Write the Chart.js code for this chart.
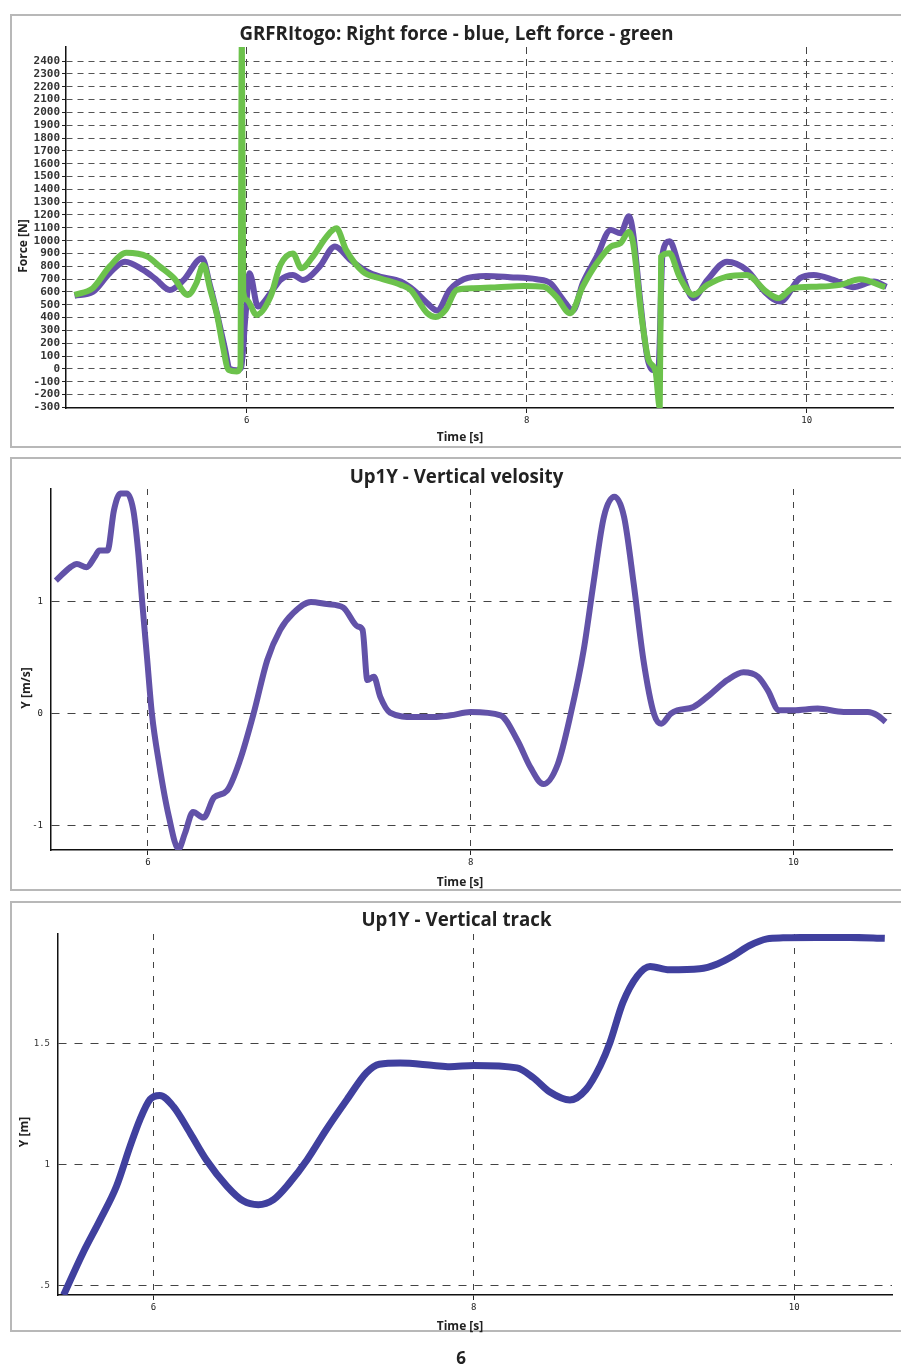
<!DOCTYPE html>
<html>
<head>
<meta charset="utf-8">
<script src="https://cdn.jsdelivr.net/npm/chart.js@4"></script>
<style>
  body { margin: 0; background: #fff; width: 901px; height: 1371px; position: relative; overflow: hidden; }
  .box { position: absolute; left: 10px; width: 893px; border: 2px solid #b8b8b8; box-sizing: border-box; }
  canvas { position: absolute; left: 10px; }
  .title { position: absolute; left: 10px; width: 893px; text-align: center; font: bold 18.7px "Open Sans", sans-serif; color: #222; line-height: 22px; }
  .xtitle { position: absolute; left: 410px; width: 100px; text-align: center; font: bold 12px "Open Sans", sans-serif; color: #222; line-height: 16px; }
  .ytitle { position: absolute; width: 100px; text-align: center; font: bold 12px "Open Sans", sans-serif; color: #222; line-height: 16px; transform: rotate(-90deg); }
  .page { position: absolute; left: 431px; top: 1346px; width: 60px; text-align: center; font: bold 17px "Open Sans", sans-serif; color: #222; }
</style>
</head>
<body>
<div class="box" style="top:14px;height:434px"></div>
<canvas id="forceChart" width="893" height="434" style="top:14px"></canvas>
<div class="title" style="top:22px">GRFRItogo: Right force - blue, Left force - green</div>
<div class="ytitle" style="left:-27px;top:238px">Force [N]</div>
<div class="xtitle" style="top:429px">Time [s]</div>

<div class="box" style="top:457px;height:434px"></div>
<canvas id="velocityChart" width="893" height="434" style="top:457px"></canvas>
<div class="title" style="top:465px">Up1Y - Vertical velosity</div>
<div class="ytitle" style="left:-24px;top:680px">Y [m/s]</div>
<div class="xtitle" style="top:874px">Time [s]</div>

<div class="box" style="top:901px;height:431px"></div>
<canvas id="trackChart" width="893" height="431" style="top:901px"></canvas>
<div class="title" style="top:908px">Up1Y - Vertical track</div>
<div class="ytitle" style="left:-26px;top:1124px">Y [m]</div>
<div class="xtitle" style="top:1318px">Time [s]</div>

<div class="page">6</div>

<script>
// GRF, right (blue) and left (green) force, N
const rightTime = [4.77, 4.90, 5.02, 5.13, 5.26, 5.35, 5.45, 5.55, 5.68, 5.74, 5.79, 5.84, 5.88, 5.93, 5.96, 5.99, 6.02, 6.08, 6.17, 6.24, 6.33, 6.40, 6.52, 6.63, 6.74, 6.86, 6.95, 7.10, 7.19, 7.29, 7.36, 7.45, 7.55, 7.71, 7.88, 8.07, 8.17, 8.26, 8.33, 8.40, 8.50, 8.60, 8.67, 8.73, 8.76, 8.81, 8.86, 8.90, 8.94, 8.97, 9.02, 9.09, 9.19, 9.29, 9.43, 9.57, 9.71, 9.81, 9.95, 10.05, 10.19, 10.33, 10.48, 10.57];
const rightForce = [570, 600, 746, 836, 772, 700, 615, 694, 863, 640, 420, 180, 0, -10, 10, 400, 746, 486, 590, 694, 733, 694, 797, 955, 850, 758, 720, 681, 616, 512, 455, 616, 699, 725, 715, 699, 668, 538, 455, 668, 875, 1083, 1057, 1190, 1057, 538, 96, -8, 0, 900, 995, 797, 551, 694, 836, 772, 590, 525, 707, 733, 694, 637, 681, 641];

const leftTime = [4.77, 4.90, 5.02, 5.14, 5.29, 5.38, 5.48, 5.58, 5.64, 5.69, 5.74, 5.79, 5.83, 5.87, 5.93, 5.955, 5.965, 5.975, 6.00, 6.07, 6.17, 6.24, 6.33, 6.39, 6.48, 6.57, 6.64, 6.71, 6.83, 6.95, 7.10, 7.17, 7.29, 7.35, 7.42, 7.50, 7.62, 7.79, 7.98, 8.12, 8.21, 8.31, 8.40, 8.50, 8.60, 8.67, 8.73, 8.76, 8.82, 8.87, 8.92, 8.95, 8.96, 9.02, 9.09, 9.19, 9.29, 9.43, 9.57, 9.71, 9.80, 9.90, 10.07, 10.24, 10.38, 10.56];
const leftForce = [577, 629, 797, 905, 875, 797, 707, 577, 668, 810, 616, 408, 174, -8, -20, 20, 2600, 600, 538, 421, 564, 810, 900, 785, 888, 1031, 1096, 927, 758, 707, 655, 616, 434, 405, 460, 616, 629, 637, 647, 641, 564, 434, 641, 823, 953, 980, 1070, 980, 408, 70, -20, -300, 875, 901, 720, 577, 655, 720, 733, 603, 551, 629, 641, 655, 699, 637];

// Up1Y vertical velocity, m/s
const velocityTime = [5.43, 5.52, 5.56, 5.62, 5.67, 5.70, 5.75, 5.79, 5.83, 5.87, 5.91, 5.94, 5.965, 5.995, 6.025, 6.07, 6.13, 6.19, 6.23, 6.28, 6.345, 6.41, 6.49, 6.57, 6.655, 6.74, 6.82, 6.90, 7.01, 7.11, 7.21, 7.30, 7.33, 7.36, 7.40, 7.44, 7.50, 7.65, 7.77, 7.875, 8.0, 8.185, 8.29, 8.37, 8.45, 8.54, 8.62, 8.70, 8.76, 8.825, 8.89, 8.95, 9.01, 9.07, 9.135, 9.18, 9.24, 9.28, 9.38, 9.49, 9.59, 9.69, 9.78, 9.84, 9.91, 10.0, 10.15, 10.31, 10.46, 10.52, 10.57];
const velocity = [1.19, 1.31, 1.34, 1.31, 1.40, 1.46, 1.46, 1.82, 1.97, 1.97, 1.82, 1.45, 1.0, 0.5, 0, -0.45, -0.92, -1.21, -1.07, -0.88, -0.93, -0.75, -0.69, -0.42, 0, 0.48, 0.75, 0.90, 1.0, 0.98, 0.95, 0.78, 0.75, 0.30, 0.33, 0.15, 0.01, -0.03, -0.03, -0.015, 0.015, -0.015, -0.24, -0.48, -0.63, -0.45, 0, 0.57, 1.16, 1.76, 1.94, 1.76, 1.16, 0.48, 0, -0.09, 0, 0.03, 0.06, 0.18, 0.30, 0.37, 0.33, 0.21, 0.03, 0.03, 0.045, 0.015, 0.015, -0.015, -0.075];

// Up1Y vertical track, m
const trackTime = [5.44, 5.56, 5.667, 5.77, 5.855, 5.917, 5.98, 6.04, 6.125, 6.23, 6.33, 6.46, 6.56, 6.655, 6.75, 6.85, 6.96, 7.08, 7.21, 7.33, 7.41, 7.54, 7.75, 7.85, 8.0, 8.27, 8.37, 8.475, 8.60, 8.70, 8.79, 8.85, 8.93, 9.02, 9.10, 9.22, 9.41, 9.52, 9.62, 9.72, 9.83, 9.93, 10.14, 10.35, 10.565];
const track = [0.46, 0.633, 0.77, 0.91, 1.076, 1.187, 1.27, 1.286, 1.24, 1.13, 1.02, 0.91, 0.85, 0.834, 0.855, 0.924, 1.02, 1.145, 1.27, 1.38, 1.415, 1.42, 1.41, 1.405, 1.41, 1.40, 1.36, 1.30, 1.267, 1.31, 1.41, 1.505, 1.67, 1.78, 1.82, 1.806, 1.81, 1.83, 1.864, 1.906, 1.934, 1.938, 1.94, 1.94, 1.936];

// tick marks
const timeTicks = [6, 8, 10];
const forceTicks = [-300, -200, -100, 0, 100, 200, 300, 400, 500, 600, 700, 800, 900, 1000, 1100, 1200, 1300, 1400, 1500, 1600, 1700, 1800, 1900, 2000, 2100, 2200, 2300, 2400];
const velocityTicks = [-1, 0, 1];
const trackTicks = [0.5, 1, 1.5];
const trackTickLabels = ['.5', '1', '1.5'];

function toPoints(xs, ys) {
    return xs.map((x, i) => ({ x: x, y: ys[i] }));
}

function setTicks(values) {
    return function (scale) {
        scale.ticks = values.map(v => ({ value: v }));
    };
}

const tickFont = { family: 'DejaVu Sans Mono', size: 9 };

function timeAxis(min, max, height, dash) {
    return {
        type: 'linear',
        min: min,
        max: max,
        afterBuildTicks: setTicks(timeTicks),
        afterFit: function (scale) { scale.height = height; },
        ticks: { autoSkip: false, maxRotation: 0, padding: 2, color: '#222', font: tickFont, callback: v => String(v) },
        grid: { color: '#444', lineWidth: 1, drawTicks: true, tickLength: 5, tickColor: '#222' },
        border: { color: '#111', width: 1.5, dash: dash }
    };
}

Chart.defaults.animation = false;
Chart.defaults.plugins.legend.display = false;
Chart.defaults.plugins.tooltip.enabled = false;
Chart.defaults.elements.point.radius = 0;

new Chart(document.getElementById('forceChart'), {
    type: 'line',
    data: {
        datasets: [{
            label: 'Right force',
            data: toPoints(rightTime, rightForce),
            borderColor: '#6650ab',
            borderWidth: 6,
            cubicInterpolationMode: 'monotone',
            order: 1
        },
        {
            label: 'Left force',
            data: toPoints(leftTime, leftForce),
            borderColor: '#6cc24c',
            borderWidth: 6,
            cubicInterpolationMode: 'monotone',
            order: 0
        }]
    },
    options: {
        responsive: false,
        layout: { padding: { top: 33, right: 10, left: 0, bottom: 0 } },
        scales: {
            x: timeAxis(4.709, 10.616, 40, [7, 5]),
            y: {
                type: 'linear',
                min: -305,
                max: 2510,
                afterBuildTicks: setTicks(forceTicks),
                afterFit: function (scale) { scale.width = 56; },
                ticks: {
                    autoSkip: false, padding: 2, color: '#333',
                    font: { family: 'DejaVu Sans Mono', size: 11, weight: 'bold' },
                    callback: v => String(v)
                },
                grid: { color: '#555', lineWidth: 1, drawTicks: true, tickLength: 4, tickColor: '#222' },
                border: { color: '#111', width: 1.5, dash: [6, 5] }
            }
        }
    }
});

new Chart(document.getElementById('velocityChart'), {
    type: 'line',
    data: {
        datasets: [{
            label: 'Up1Y velocity',
            data: toPoints(velocityTime, velocity),
            borderColor: '#6252a8',
            borderWidth: 6,
            cubicInterpolationMode: 'monotone'
        }]
    },
    options: {
        responsive: false,
        layout: { padding: { top: 32, right: 11, left: 0, bottom: 0 } },
        scales: {
            x: timeAxis(5.40, 10.61, 41, [6, 7]),
            y: {
                type: 'linear',
                min: -1.22,
                max: 2.01,
                afterBuildTicks: setTicks(velocityTicks),
                afterFit: function (scale) { scale.width = 41; },
                ticks: { autoSkip: false, padding: 8, color: '#222', font: tickFont },
                grid: { color: '#444', lineWidth: 1, drawTicks: false },
                border: { color: '#111', width: 1.5, dash: [8, 8] }
            }
        }
    }
});

new Chart(document.getElementById('trackChart'), {
    type: 'line',
    data: {
        datasets: [{
            label: 'Up1Y track',
            data: toPoints(trackTime, track),
            borderColor: '#40409e',
            borderWidth: 7,
            cubicInterpolationMode: 'monotone'
        }]
    },
    options: {
        responsive: false,
        layout: { padding: { top: 33, right: 11, left: 0, bottom: 0 } },
        scales: {
            x: timeAxis(5.405, 10.61, 37, [6, 8]),
            y: {
                type: 'linear',
                min: 0.46,
                max: 1.954,
                afterBuildTicks: setTicks(trackTicks),
                afterFit: function (scale) { scale.width = 48; },
                ticks: {
                    autoSkip: false, padding: 8, color: '#333', font: tickFont,
                    callback: function (value) { return trackTickLabels[trackTicks.indexOf(value)]; }
                },
                grid: { color: '#444', lineWidth: 1, drawTicks: false },
                border: { color: '#111', width: 1.5, dash: [8, 8] }
            }
        }
    }
});
</script>
</body>
</html>
